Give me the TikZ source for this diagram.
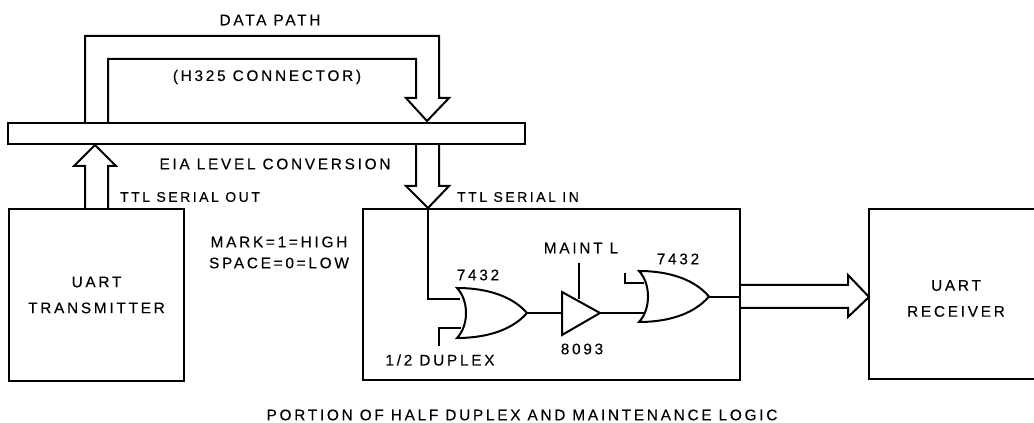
\documentclass[tikz,border=0pt]{standalone}
\usepackage{fontspec}
\setmainfont[LetterSpace=18,FakeBold=0.3]{Liberation Sans}
\tikzset{
	wire/.style={draw, line width=1.1pt},
	heavy/.style={draw, line width=1.5pt, line join=miter},
	block/.style={draw, line width=1.5pt, inner sep=0pt, align=center, font=\fontsize{11.5}{19.5}\selectfont},
	lbl/.style={inner sep=0pt, align=center, font=\fontsize{11.5}{15.75}\selectfont},
	smalllbl/.style={lbl, font=\fontsize{10.5}{15}\selectfont}
}
\newcommand{\orgate}[4]{% x, y of top left corner, width, height
	\draw[heavy] (#1,#2) .. controls (#1+0.33*#3,#2) and (#1+0.75*#3,#2+0.1*#4) .. (#1+#3,#2+0.5*#4)
		.. controls (#1+0.75*#3,#2+0.9*#4) and (#1+0.33*#3,#2+#4) .. (#1,#2+#4)
		.. controls (#1+12,#2+0.75*#4) and (#1+12,#2+0.25*#4) .. cycle;
}
\begin{document}
\begin{tikzpicture}[x=0.75pt, y=-0.75pt]
	\useasboundingbox (0,0) rectangle (1034,423);
	% boxes
	\node[block, minimum width=131.25pt, minimum height=129pt] (trans) at (96.5,295) {UART\\TRANSMITTER};
	\node[block, minimum width=282.75pt, minimum height=128.25pt] (logic) at (551.5,294.5) {};
	\node[block, minimum width=150pt, minimum height=127.5pt] (recv) at (969,294) {};
	\node[draw, line width=1.5pt, inner sep=0pt, minimum width=387.75pt, minimum height=15.75pt] (eia) at (266.5,133.5) {};
	% bus arrows
	\coordinate (pathtip) at (427,121);
	\draw[heavy] (85,123) -- (85,36) -- (439,36) -- (439,98) -- (449,98) -- (pathtip) -- (406,98) -- (416,98) -- (416,59) -- (108,59) -- (108,123);
	\coordinate (outtip) at (95,145);
	\draw[heavy] (85,209) -- (85,166) -- (74,166) -- (outtip) -- (116,166) -- (108,166) -- (108,209);
	\coordinate (intip) at (428,208);
	\draw[heavy] (416,144) -- (416,186) -- (406,186) -- (intip) -- (449,186) -- (439,186) -- (439,144);
	\coordinate (rxtip) at (869,297);
	\draw[heavy] (740,285) -- (848,285) -- (848,275) -- (rxtip) -- (848,317) -- (848,308) -- (740,308);
	% gates
	\orgate{457}{288}{70}{50}
	\orgate{639}{271}{70}{51}
	\draw[heavy] (562,292) -- (600,313) -- (562,335) -- cycle;
	\coordinate (bufin) at (562,313);
	\coordinate (bufout) at (600,313);
	% wires
	\draw[wire] (intip) -- (428,299) -- (460,299);
	\draw[wire] (439,346) -- (439,328) -- (461,328);
	\draw[wire] (527,313) -- (bufin);
	\draw[wire] (bufout) -- (645,313);
	\draw[wire] (579,263) -- (579,299);
	\draw[wire] (625,273) -- (625,283) -- (644,283);
	\draw[wire] (709,297) -- (740,297);
	% labels
	\node[lbl] (datapath) at (270,20) {DATA PATH};
	\node[lbl] (conn) at (267,77) {(H325 CONNECTOR)};
	\node[lbl] (conv) at (275,164) {EIA LEVEL CONVERSION};
	\node[smalllbl] (serout) at (190,197) {TTL SERIAL OUT};
	\node[smalllbl] (serin) at (518,197) {TTL SERIAL IN};
	\node[lbl] (levels) at (279,252.5) {MARK=1=HIGH\\SPACE=0=LOW};
	\node[lbl] (gateone) at (478,275) {7432};
	\node[lbl] (gatetwo) at (678,259) {7432};
	\node[lbl] (maint) at (581,248) {MAINT L};
	\node[lbl] (buf) at (582,349) {8093};
	\node[lbl] (duplex) at (440,360) {1/2 DUPLEX};
	\node[block, draw=none] (recvtext) at (956,298.5) {UART\\RECEIVER};
	\node[lbl] (caption) at (522,415) {PORTION OF HALF DUPLEX AND MAINTENANCE LOGIC};
\end{tikzpicture}
\end{document}
